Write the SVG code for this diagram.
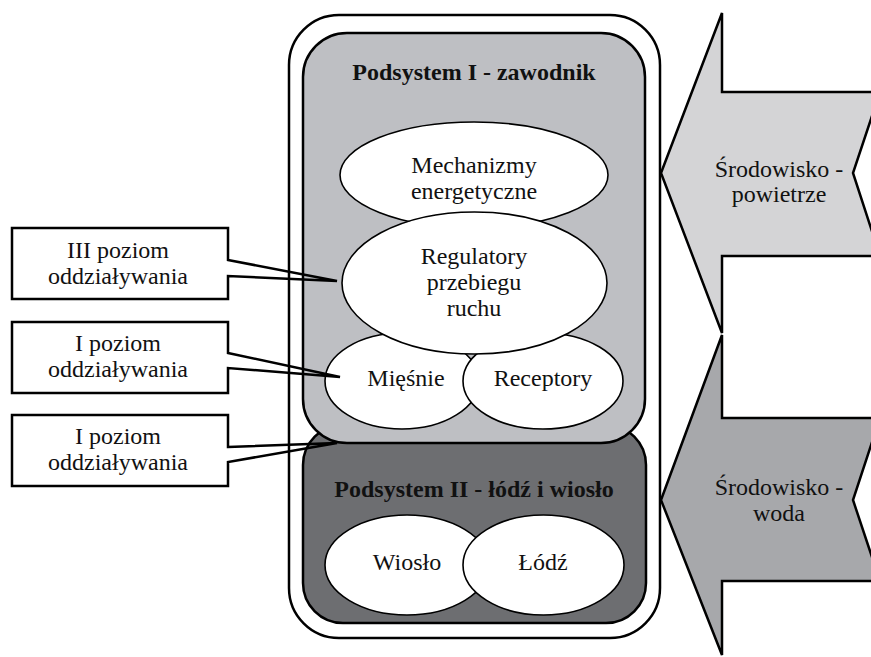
<svg xmlns="http://www.w3.org/2000/svg" width="871" height="657" viewBox="0 0 871 657">
<style>
text{font-family:"Liberation Serif","Times New Roman",serif;font-size:24px;fill:#111;text-anchor:middle}
.b{font-weight:bold}
.el{fill:#fff;stroke:#000;stroke-width:1.6}
.bx{fill:#fff;stroke:none}
.co{fill:none;stroke:#000;stroke-width:2.5;stroke-linejoin:miter}
.ar{stroke:#000;stroke-width:2.5;stroke-linejoin:miter}
</style>
<rect width="871" height="657" fill="#fff"/>
<g id="outer">
<rect x="289" y="15" width="371" height="623" rx="50" fill="#fff" stroke="#000" stroke-width="2.5"/>
</g>
<g id="podsystem2">
<rect x="303" y="425" width="343" height="198" rx="40" fill="#6d6e71" stroke="#000" stroke-width="2.5"/>
<text class="b" x="474" y="497">Podsystem II - łódź i wiosło</text>
</g>
<g id="podsystem1">
<rect x="303" y="33" width="342" height="410" rx="44" fill="#bebfc3" stroke="#000" stroke-width="2.5"/>
<text class="b" x="474" y="80">Podsystem I - zawodnik</text>
</g>
<g id="mechanizmy">
<ellipse class="el" cx="474" cy="175" rx="134" ry="53"/>
<text x="474" y="173">Mechanizmy</text>
<text x="474" y="199">energetyczne</text>
</g>
<g id="miesnie">
<ellipse class="el" cx="402" cy="381" rx="77" ry="48"/>
<text x="406" y="386">Mięśnie</text>
</g>
<g id="receptory">
<ellipse class="el" cx="543" cy="381" rx="80" ry="48"/>
<text x="543" y="386">Receptory</text>
</g>
<g id="regulatory">
<ellipse class="el" cx="474.5" cy="283" rx="132.5" ry="71"/>
<text x="474" y="264">Regulatory</text>
<text x="474" y="290">przebiegu</text>
<text x="474" y="316">ruchu</text>
</g>
<g id="wioslo">
<ellipse class="el" cx="407" cy="565" rx="82" ry="50"/>
<text x="407" y="570">Wiosło</text>
</g>
<g id="lodz">
<ellipse class="el" cx="543.5" cy="565" rx="80.5" ry="50"/>
<text x="543" y="570">Łódź</text>
</g>
<g id="srodowisko-powietrze">
<polygon class="ar" fill="#d4d4d6" points="661,173 722,13 722,92 880,92 853,173 880,256 722,256 722,333"/>
<text x="779" y="177">Środowisko -</text>
<text x="779" y="202">powietrze</text>
</g>
<g id="srodowisko-woda">
<polygon class="ar" fill="#a7a8ab" points="661,500 722,335 722,418 880,418 853,500 880,581 722,581 722,655"/>
<text x="779" y="495">Środowisko -</text>
<text x="779" y="521">woda</text>
</g>
<g id="connectors">
<g id="callout1">
<rect class="bx" x="12" y="228" width="216" height="71"/>
<path class="co" d="M228,260 L337,281 L228,276 L228,299 L12,299 L12,228 L228,228 Z"/>
<text x="118" y="258">III poziom</text>
<text x="118" y="284">oddziaływania</text>
</g>
<g id="callout2">
<rect class="bx" x="12" y="322" width="216" height="71"/>
<path class="co" d="M228,353 L340,377 L228,368 L228,393 L12,393 L12,322 L228,322 Z"/>
<text x="118" y="351">I poziom</text>
<text x="118" y="377">oddziaływania</text>
</g>
<g id="callout3">
<rect class="bx" x="12" y="415" width="216" height="71"/>
<path class="co" d="M228,447 L337,443 L228,462 L228,486 L12,486 L12,415 L228,415 Z"/>
<text x="118" y="444">I poziom</text>
<text x="118" y="470">oddziaływania</text>
</g>
</g>
</svg>
